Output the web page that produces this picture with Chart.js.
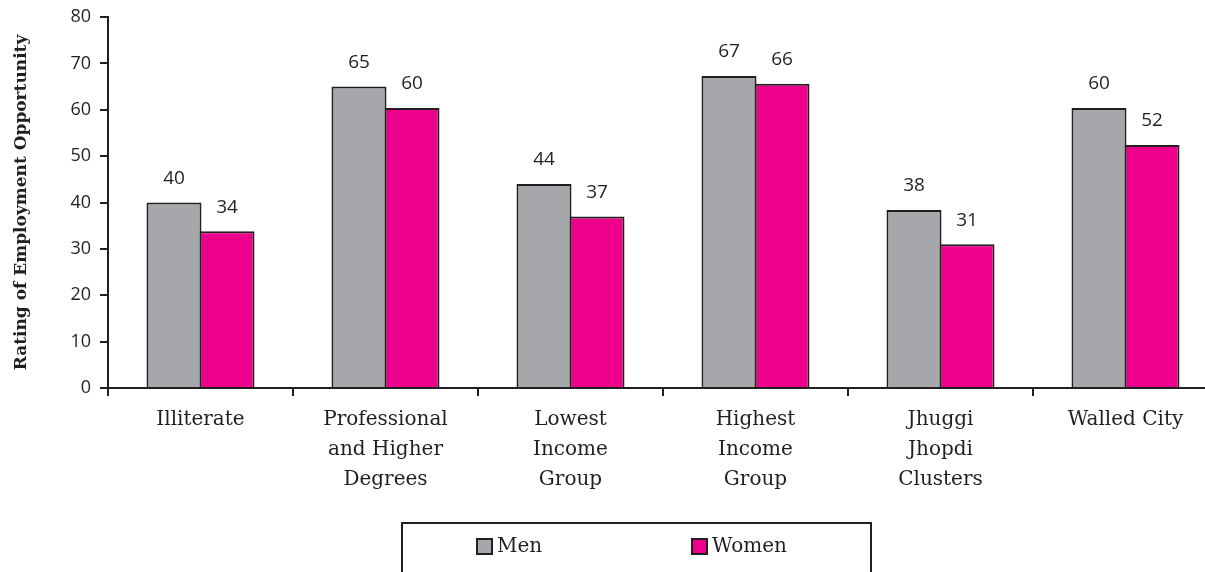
<!DOCTYPE html>
<html>
<head>
<meta charset="utf-8">
<script src="https://cdn.jsdelivr.net/npm/chart.js@4.4.1/dist/chart.umd.min.js"></script>
<style>
  html, body { margin: 0; padding: 0; background: #fff; overflow: hidden; }
  canvas { display: block; }
</style>
</head>
<body>
<canvas id="chart" width="1220" height="572"></canvas>
<script>
const categories = [
  'Illiterate',
  ['Professional', 'and Higher', 'Degrees'],
  ['Lowest', 'Income', 'Group'],
  ['Highest', 'Income', 'Group'],
  ['Jhuggi', 'Jhopdi', 'Clusters'],
  'Walled City'
];
const men = [40, 65, 44, 67.3, 38.4, 60.4];
const women = [33.8, 60.4, 37, 65.6, 31, 52.4];
const yTicks = [0, 10, 20, 30, 40, 50, 60, 70, 80];

const ink = '#231f20';

// value labels over each bar
const barLabels = {
  id: 'barLabels',
  afterDatasetsDraw(chart) {
    const ctx = chart.ctx;
    ctx.save();
    ctx.fillStyle = ink;
    ctx.font = '19px "Open Sans"';
    ctx.textAlign = 'center';
    ctx.textBaseline = 'middle';
    chart.data.datasets.forEach((ds, i) => {
      chart.getDatasetMeta(i).data.forEach((bar, j) => {
        ctx.fillText(Math.round(ds.data[j]), bar.x, bar.y - 24);
      });
    });
    ctx.restore();
  }
};

// boxed legend at the bottom
const boxLegend = {
  id: 'boxLegend',
  afterDraw(chart) {
    const ctx = chart.ctx;
    const xs = [477, 692];
    ctx.save();
    ctx.strokeStyle = ink;
    ctx.lineWidth = 2;
    ctx.strokeRect(402, 523, 469, 80);
    ctx.font = '20px "DejaVu Serif"';
    ctx.textBaseline = 'middle';
    chart.data.datasets.forEach((ds, i) => {
      ctx.fillStyle = ds.backgroundColor;
      ctx.fillRect(xs[i], 539, 15, 15);
      ctx.lineWidth = 2;
      ctx.strokeRect(xs[i], 539, 15, 15);
      ctx.fillStyle = ink;
      ctx.fillText(ds.label, xs[i] + 20, 547);
    });
    ctx.restore();
  }
};

function noPad(s) {
  s.paddingTop = 0;
  s.paddingBottom = 0;
  s.paddingLeft = 0;
  s.paddingRight = 0;
}

new Chart(document.getElementById('chart'), {
  type: 'bar',
  data: {
    labels: categories,
    datasets: [
      { label: 'Men', data: men, backgroundColor: '#a6a7ab', borderColor: ink, borderWidth: 2, borderSkipped: 'bottom' },
      { label: 'Women', data: women, backgroundColor: '#ec008c', borderColor: ink, borderWidth: 2, borderSkipped: 'bottom' }
    ]
  },
  options: {
    responsive: false,
    animation: false,
    categoryPercentage: 0.573,
    barPercentage: 1.038,
    layout: { padding: { top: 17, right: 2, left: 0, bottom: 0 } },
    plugins: {
      legend: { display: false },
      tooltip: { enabled: false }
    },
    scales: {
      x: {
        afterFit: s => { s.height = 184; noPad(s); },
        grid: { offset: true, drawOnChartArea: false, tickLength: 8, color: ink, lineWidth: 2 },
        border: { color: ink, width: 2 },
        ticks: {
          color: ink,
          padding: 9,
          maxRotation: 0,
          autoSkip: false,
          font: { family: '"DejaVu Serif"', size: 20, lineHeight: 1.5 }
        }
      },
      y: {
        min: 0,
        max: 80,
        afterFit: s => { s.width = 108; noPad(s); },
        afterBuildTicks: s => { s.ticks = yTicks.map(v => ({ value: v })); },
        grid: { drawOnChartArea: false, tickLength: 8, color: ink, lineWidth: 2 },
        border: { color: ink, width: 2 },
        ticks: {
          color: ink,
          padding: 9,
          font: { family: '"Open Sans"', size: 18 }
        },
        title: {
          display: true,
          text: 'Rating of Employment Opportunity',
          color: ink,
          padding: { top: 11, bottom: 0 },
          font: { family: '"DejaVu Serif"', size: 17, weight: 'bold' }
        }
      }
    }
  },
  plugins: [barLabels, boxLegend]
});
</script>
</body>
</html>
